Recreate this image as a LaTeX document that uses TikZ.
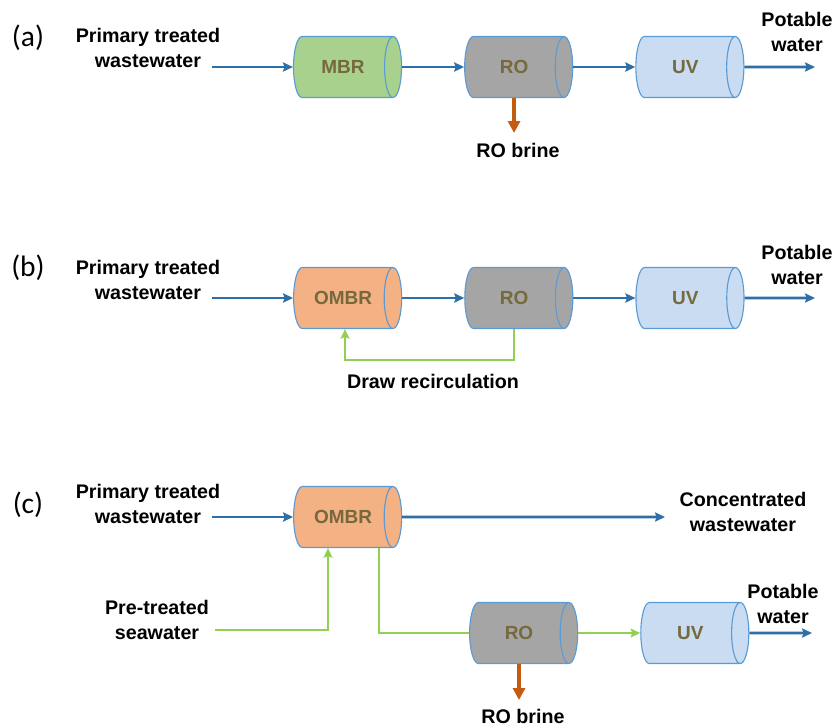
\documentclass[tikz,border=0pt]{standalone}
\usepackage{fontspec}
\setmainfont{Liberation Sans}
\newfontfamily\tagfont{Carlito}
\usetikzlibrary{arrows.meta,positioning,shapes.geometric}
\definecolor{pipeblue}{HTML}{2E6FA7}
\definecolor{rimblue}{HTML}{5B9BD5}
\definecolor{mbrgreen}{HTML}{A9D18E}
\definecolor{ombrorange}{HTML}{F4B183}
\definecolor{rogray}{HTML}{A5A5A5}
\definecolor{uvblue}{HTML}{C9DCF1}
\definecolor{unittext}{HTML}{76693E}
\definecolor{brineorange}{HTML}{C55A11}
\definecolor{drawgreen}{HTML}{92D050}
\tikzset{
  unit/.style={cylinder,draw=rimblue,line width=0.8pt,aspect=1.3,inner sep=0pt,
    minimum width=1.525cm,minimum height=2.7cm,text=unittext,
    font=\fontsize{13.5}{15}\selectfont\bfseries},
  streamtext/.style={align=center,font=\fontsize{14}{17.8}\selectfont\bfseries},
  paneltag/.style={font=\fontsize{21}{24}\selectfont\tagfont},
  flow/.style={-{Stealth[length=2.5mm,width=2.3mm,inset=0.4mm]},draw=pipeblue,line width=2pt},
  brine/.style={-{Triangle[length=3mm,width=3mm]},draw=brineorange,line width=2.4pt},
  recirc/.style={draw=drawgreen,line width=1.6pt},
  recircflow/.style={recirc,-{Stealth[length=2.4mm,width=2.2mm,inset=0.4mm]}}
}
\begin{document}
\begin{tikzpicture}[x=0.025cm,y=-0.025cm,node distance=1.55cm]
  \useasboundingbox (0,0) rectangle (837,726);
  % (a) MBR - RO - UV
  \node[paneltag] (taga) at (28,38) {(a)};
  \node[streamtext] (feeda) at (148,48) {Primary treated\\wastewater};
  \node[unit,fill=mbrgreen] (mbra) at (343,67) {MBR};
  \node[unit,fill=rogray,right=of mbra] (roa) {RO};
  \node[unit,fill=uvblue,right=of roa] (uva) {UV};
  \node[streamtext] (potablea) at (797,32) {Potable\\water};
  \node[streamtext] (brinetexta) at (518,150) {RO brine};
  \coordinate (ina) at (212,67);
  \coordinate (outa) at (815,67);
  \coordinate (brinea) at (516,133);
  \draw[flow] (ina) -- (mbra);
  \draw[flow] (mbra.east) -- (roa);
  \draw[flow] (roa.east) -- (uva);
  \draw[flow] (uva.east) -- (outa);
  \draw[brine] (roa.south) -- (roa.south |- brinea);
  % (b) OMBR - RO - UV with draw recirculation
  \node[paneltag] (tagb) at (28,268) {(b)};
  \node[streamtext] (feedb) at (148,280) {Primary treated\\wastewater};
  \node[unit,fill=ombrorange] (ombrb) at (343,298) {OMBR};
  \node[unit,fill=rogray,right=of ombrb] (rob) {RO};
  \node[unit,fill=uvblue,right=of rob] (uvb) {UV};
  \node[streamtext] (potableb) at (797,265) {Potable\\water};
  \node[streamtext] (recirctext) at (433,381) {Draw recirculation};
  \coordinate (inb) at (212,298);
  \coordinate (outb) at (815,298);
  \coordinate (loopb) at (345,360);
  \draw[flow] (inb) -- (ombrb);
  \draw[flow] (ombrb.east) -- (rob);
  \draw[flow] (rob.east) -- (uvb);
  \draw[flow] (uvb.east) -- (outb);
  \draw[recircflow] (rob.south) |- (loopb) -- (loopb |- ombrb.south);
  % (c) OMBR with seawater draw, RO - UV
  \node[paneltag] (tagc) at (28,505) {(c)};
  \node[streamtext] (feedc) at (148,504) {Primary treated\\wastewater};
  \node[unit,fill=ombrorange] (ombrc) at (343,517) {OMBR};
  \node[streamtext] (concc) at (743,512) {Concentrated\\wastewater};
  \node[streamtext] (seac) at (157,620) {Pre-treated\\seawater};
  \node[unit,fill=rogray] (roc) at (519,633) {RO};
  \node[unit,fill=uvblue,right=of roc] (uvc) {UV};
  \node[streamtext] (potablec) at (783,604) {Potable\\water};
  \node[streamtext] (brinetextc) at (523,716) {RO brine};
  \coordinate (inc) at (212,517);
  \coordinate (concout) at (665,517);
  \coordinate (seain) at (215,630);
  \coordinate (outc) at (812,633);
  \coordinate (brinec) at (523,700);
  \draw[flow] (inc) -- (ombrc);
  \draw[flow] (ombrc.east) -- (concout);
  \draw[recircflow] (seain) -| ([xshift=-0.375cm]ombrc.south);
  \draw[recirc] ([xshift=0.9cm]ombrc.south) |- (roc);
  \draw[recircflow] (roc.east) -- (uvc);
  \draw[flow] (uvc.east) -- (outc);
  \draw[brine] (roc.south) -- (roc.south |- brinec);
\end{tikzpicture}
\end{document}
